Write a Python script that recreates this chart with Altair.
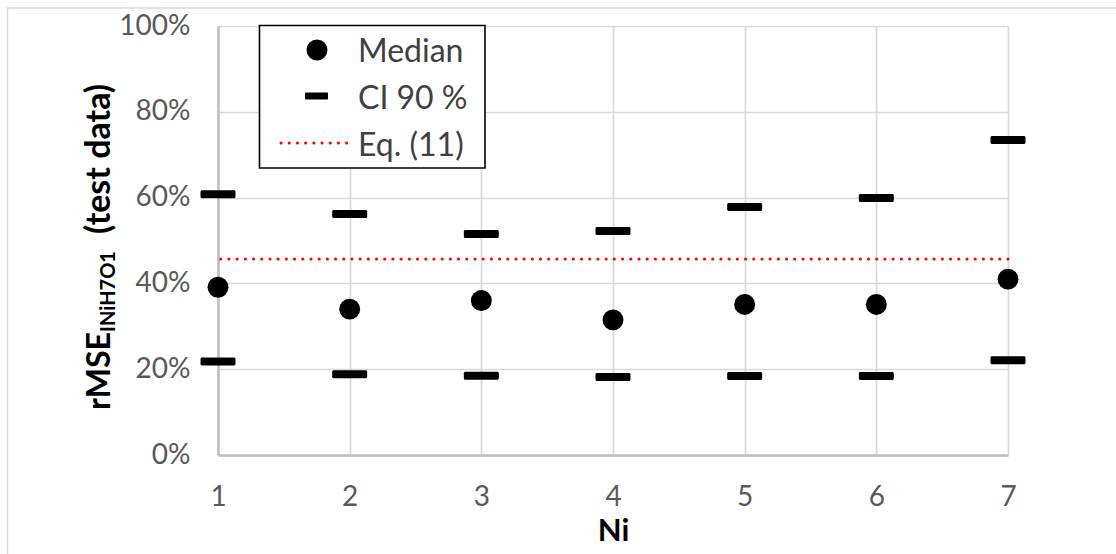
import altair as alt
import pandas as pd

# Number of Ni terms and the rMSE statistics of the test data
ni = [1, 2, 3, 4, 5, 6, 7]
median = [0.391, 0.340, 0.360, 0.315, 0.351, 0.351, 0.410]
ci_upper = [0.608, 0.562, 0.515, 0.522, 0.578, 0.599, 0.734]
ci_lower = [0.218, 0.188, 0.185, 0.182, 0.184, 0.184, 0.221]
eq11 = 0.457
y_ticks = [0, 0.2, 0.4, 0.6, 0.8, 1.0]

FONT = "Lato"

df_med = pd.DataFrame({"ni": ni, "median": median})
df_ci = pd.DataFrame({"ni": ni + ni, "value": ci_upper + ci_lower})
df_eq = pd.DataFrame({"eq": [eq11]})
one = pd.DataFrame({"k": [0]})

x_scale = alt.Scale(domain=[1, 7], nice=False, zero=False)
y_scale = alt.Scale(domain=[0, 1], nice=False, zero=True)

x_axis = alt.Axis(
    values=ni, format="d", grid=True, gridColor="#d9d9d9", gridWidth=1.7,
    domainColor="#bfbfbf", domainWidth=2.6, ticks=False, tickSize=0,
    labelFont=FONT, labelFontSize=28, labelColor="#595959",
    labelPadding=50, labelBaseline="alphabetic", labelFlush=False,
    title="Ni", titleFont=FONT, titleFontSize=31, titleFontWeight="bold",
    titleColor="#000000", titleY=85, titleBaseline="alphabetic",
)
y_axis = alt.Axis(
    values=y_ticks, format=".0%", grid=True, gridColor="#d9d9d9", gridWidth=1.7,
    domainColor="#bfbfbf", domainWidth=2.6, ticks=False, tickSize=0,
    labelFont=FONT, labelFontSize=28, labelColor="#595959", labelPadding=28,
    labelFlush=False, title=None,
)

# outer chart frame
frame = alt.Chart(one).mark_rect(
    fillOpacity=0, stroke="#d9d9d9", strokeWidth=1.6
).encode(x=alt.value(-210.5), x2=alt.value(1000), y=alt.value(-18), y2=alt.value(600))

eq_line = alt.Chart(df_eq).mark_rule(
    color="#ff0000", strokeDash=[0.1, 8.1], strokeCap="round", strokeWidth=3
).encode(y=alt.Y("eq:Q", scale=y_scale, axis=y_axis))

ci_marks = alt.Chart(df_ci).mark_tick(
    orient="horizontal", size=35, thickness=8, color="black", opacity=1, cornerRadius=1.5
).encode(
    x=alt.X("ni:Q", scale=x_scale, axis=x_axis),
    y=alt.Y("value:Q", scale=y_scale, axis=y_axis),
)

med_marks = alt.Chart(df_med).mark_circle(size=438, color="black", opacity=1).encode(
    x=alt.X("ni:Q", scale=x_scale, axis=x_axis),
    y=alt.Y("median:Q", scale=y_scale, axis=y_axis),
)

# legend box
leg_box = alt.Chart(one).mark_rect(fill="white", stroke="black", strokeWidth=1.6).encode(
    x=alt.value(41.5), x2=alt.value(267), y=alt.value(-0.5), y2=alt.value(142)
)
leg_dot = alt.Chart(one).mark_circle(size=438, color="black", opacity=1).encode(
    x=alt.value(99), y=alt.value(24)
)
leg_bar = alt.Chart(one).mark_rect(color="black", cornerRadius=1).encode(
    x=alt.value(87), x2=alt.value(110), y=alt.value(66.5), y2=alt.value(73.5)
)
leg_line = alt.Chart(one).mark_rule(
    color="#ff0000", strokeDash=[0.1, 8.1], strokeCap="round", strokeWidth=3
).encode(x=alt.value(63), x2=alt.value(131), y=alt.value(117))


def leg_text(label, y):
    return alt.Chart(one).mark_text(
        align="left", baseline="alphabetic", font=FONT, fontSize=32, color="#404040"
    ).encode(x=alt.value(140), y=alt.value(y), text=alt.value(label))


# rotated y-axis title with subscript
def y_title(label, x, y, size):
    return alt.Chart(one).mark_text(
        angle=270, align="left", baseline="alphabetic", font=FONT, fontSize=size,
        fontWeight="bold", color="#000000"
    ).encode(x=alt.value(x), y=alt.value(y), text=alt.value(label))


chart = alt.layer(
    frame,
    eq_line,
    ci_marks,
    med_marks,
    leg_box,
    leg_dot,
    leg_bar,
    leg_line,
    leg_text("Median", 36),
    leg_text("CI 90 %", 83),
    leg_text("Eq. (11)", 130),
    y_title("rMSE", -108.5, 384, 32),
    y_title("INiH7O1", -103, 306, 20),
    y_title("(test data)", -108.5, 208, 34),
).properties(
    width=790,
    height=429,
    autosize="none",
    padding={"left": 218, "top": 26, "right": 108, "bottom": 99},
    background="white",
).configure_view(stroke="transparent")

chart.save("out.html", embed_options={"renderer": "svg", "actions": False})
